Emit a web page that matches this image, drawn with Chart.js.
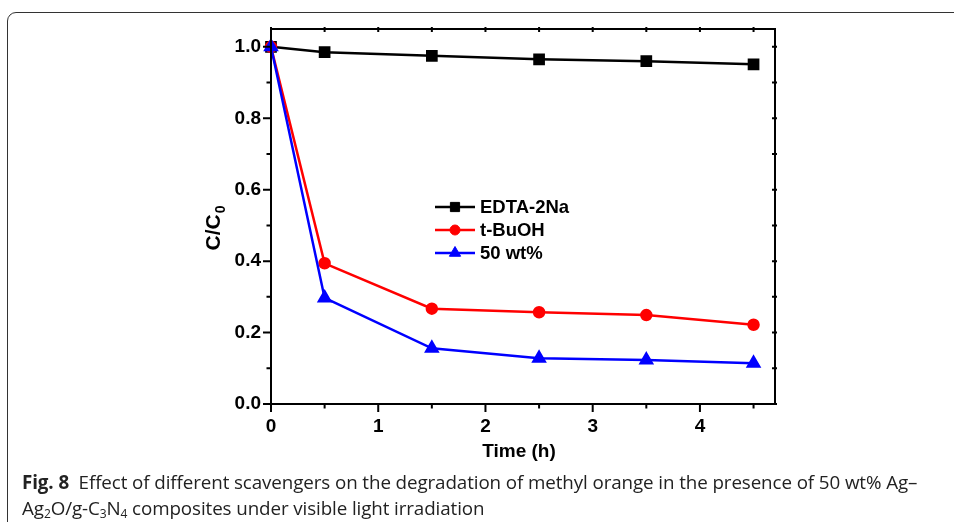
<!DOCTYPE html>
<html><head><meta charset="utf-8">
<script src="https://cdn.jsdelivr.net/npm/chart.js@4/dist/chart.umd.min.js"></script>
<style>
html,body{margin:0;padding:0;background:#fff;width:954px;height:522px;overflow:hidden;}
#card{position:absolute;left:7px;top:12px;width:1000px;height:560px;border:1.5px solid #333;border-radius:9px 0 0 0;box-sizing:border-box;}
#c{position:absolute;left:0;top:0;}
#cap{position:absolute;left:22px;top:469px;font-family:"Open Sans",sans-serif;font-size:18.8px;letter-spacing:-0.1px;line-height:26px;color:#222;white-space:nowrap;}
#cap sub{font-size:12px;vertical-align:-3px;line-height:0;}
</style></head><body>
<div id="card"></div>
<canvas id="c" width="954" height="470"></canvas>
<div id="cap"><b>Fig. 8</b>&nbsp; Effect of different scavengers on the degradation of methyl orange in the presence of 50 wt% Ag–<br>Ag<sub>2</sub>O/g-C<sub>3</sub>N<sub>4</sub> composites under visible light irradiation</div>
<script>
// ---- data ----
const times = [0, 0.5, 1.5, 2.5, 3.5, 4.5];
const edta  = [1.0, 0.985, 0.975, 0.965, 0.960, 0.951];
const tbuoh = [1.0, 0.394, 0.267, 0.257, 0.249, 0.222];
const wt50  = [1.0, 0.297, 0.156, 0.128, 0.123, 0.114];
const seriesNames = ['EDTA-2Na', 't-BuOH', '50 wt%'];
const xMajorTicks = [0, 1, 2, 3, 4];
const yMajorTicks = [0.0, 0.2, 0.4, 0.6, 0.8, 1.0];
const xTitle = 'Time (h)';
const yTitleMain = 'C/C';
const yTitleSub = '0';

const toXY = arr => arr.map((v, i) => ({x: times[i], y: v}));
const FONT = '"Liberation Sans", Arial, sans-serif';

const framePlugin = {
  id: 'frame',
  afterDraw(chart) {
    const ctx = chart.ctx, a = chart.chartArea;
    const xs = chart.scales.x, ys = chart.scales.y;
    ctx.save();
    ctx.strokeStyle = '#000';
    ctx.lineWidth = 2;
    ctx.beginPath();
    ctx.rect(a.left, a.top, a.right - a.left, a.bottom - a.top);
    ctx.stroke();
    ctx.lineWidth = 2;
    for (let v = 0; v <= 4.5 + 1e-9; v += 0.5) {
      const px = xs.getPixelForValue(v);
      const major = Math.abs(v - Math.round(v)) < 1e-9;
      ctx.beginPath();
      ctx.moveTo(px, a.bottom); ctx.lineTo(px, a.bottom + (major ? 8 : 4.5));
      ctx.moveTo(px, a.top - 2); ctx.lineTo(px, a.top + 3);
      ctx.stroke();
    }
    for (let v = 0; v <= 1.0 + 1e-9; v += 0.1) {
      const py = ys.getPixelForValue(v);
      const major = Math.round(v * 10) % 2 === 0;
      ctx.beginPath();
      ctx.moveTo(a.left, py); ctx.lineTo(a.left - (major ? 8 : 4.5), py);
      ctx.moveTo(a.right + 2, py); ctx.lineTo(a.right - 3, py);
      ctx.stroke();
    }
    ctx.fillStyle = '#000';
    ctx.font = 'bold 19px ' + FONT;
    ctx.textAlign = 'center';
    ctx.textBaseline = 'alphabetic';
    ctx.fillText(xTitle, (a.left + a.right) / 2 - 4, a.bottom + 53);
    ctx.save();
    ctx.translate(a.left - 51, (a.top + a.bottom) / 2 + 12);
    ctx.rotate(-Math.PI / 2);
    ctx.font = 'bold 21px ' + FONT;
    const w1 = ctx.measureText(yTitleMain).width;
    ctx.font = 'bold 14px ' + FONT;
    const w2 = ctx.measureText(yTitleSub).width;
    const start = -(w1 + w2) / 2;
    ctx.textAlign = 'left';
    ctx.font = 'bold 21px ' + FONT;
    ctx.fillText(yTitleMain, start, 0);
    ctx.font = 'bold 14px ' + FONT;
    ctx.fillText(yTitleSub, start + w1 + 1, 5);
    ctx.restore();
    const lx = a.left + 164, ly0 = a.top + 178, dy = 23;
    chart.data.datasets.forEach((ds, i) => {
      const y = ly0 + i * dy;
      ctx.strokeStyle = ds.borderColor;
      ctx.lineWidth = ds.borderWidth;
      ctx.beginPath(); ctx.moveTo(lx, y); ctx.lineTo(lx + 40, y); ctx.stroke();
      ctx.fillStyle = ds.pointBackgroundColor;
      ctx.strokeStyle = ds.pointBorderColor;
      ctx.lineWidth = 1;
      Chart.helpers.drawPoint(ctx, {pointStyle: ds.pointStyle, radius: ds.pointRadius, borderWidth: 1, rotation: 0}, lx + 20, y);
      ctx.fillStyle = '#000';
      ctx.font = 'bold 18.5px ' + FONT;
      ctx.textAlign = 'left';
      ctx.textBaseline = 'middle';
      ctx.fillText(ds.label, lx + 45, y + 1);
    });
    ctx.restore();
  }
};

const mk = (label, data, color, style, r, order) => ({
  label, data: toXY(data), borderColor: color, backgroundColor: color,
  pointBackgroundColor: color, pointBorderColor: color, pointStyle: style,
  pointRadius: r, pointHoverRadius: r, borderWidth: 2.5, tension: 0, clip: false, order
});

new Chart(document.getElementById('c'), {
  type: 'line',
  data: { datasets: [
    mk(seriesNames[0], edta, '#000000', 'rect', 6.5, 2),
    mk(seriesNames[1], tbuoh, '#ff0000', 'circle', 5, 1),
    mk(seriesNames[2], wt50, '#0000ff', 'triangle', 6.5, 0)
  ]},
  options: {
    responsive: false,
    animation: false,
    layout: { padding: { left: 200, right: 179, top: 29, bottom: 0 } },
    plugins: { legend: { display: false }, tooltip: { enabled: false } },
    scales: {
      x: {
        type: 'linear', min: 0, max: 4.7,
        afterFit(s) { s.height = 66; },
        grid: { display: false, drawTicks: false, tickLength: 0 },
        border: { display: false },
        ticks: {
          stepSize: 1, includeBounds: false, padding: 11, color: '#000',
          font: { family: FONT, weight: 'bold', size: 19 },
          callback: v => String(v)
        }
      },
      y: {
        min: 0, max: 1.05,
        afterFit(s) { s.width = 71; },
        grid: { display: false, drawTicks: false, tickLength: 0 },
        border: { display: false },
        ticks: {
          stepSize: 0.2, includeBounds: false, padding: 10, color: '#000',
          font: { family: FONT, weight: 'bold', size: 19 },
          callback: v => Number(v).toFixed(1)
        }
      }
    }
  },
  plugins: [framePlugin]
});
</script>
</body></html>
